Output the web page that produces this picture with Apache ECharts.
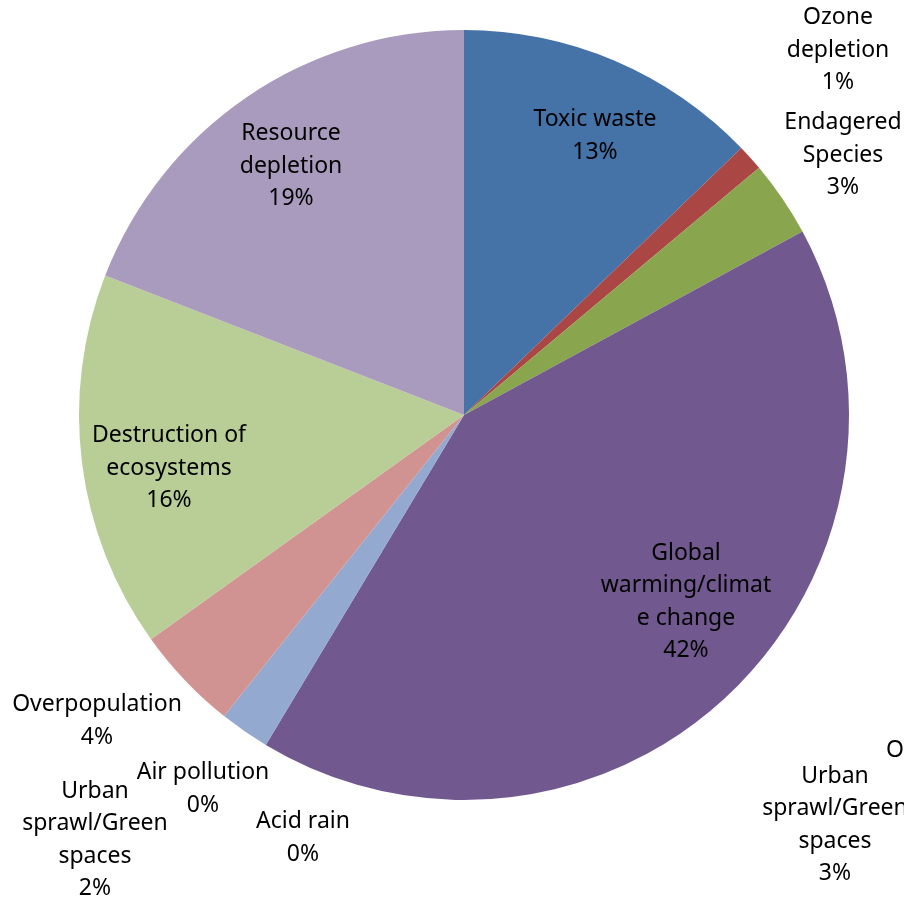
<!DOCTYPE html>
<html>
<head>
<meta charset="utf-8">
<script src="https://cdn.jsdelivr.net/npm/echarts@6/dist/echarts.min.js"></script>
<style>
html, body { margin: 0; padding: 0; background: #fff; }
#chart { width: 904px; height: 900px; }
</style>
</head>
<body>
<div id="chart"></div>
<script>
// data (share of answers, %)
var names = ['Toxic waste', 'Ozone depletion', 'Endagered Species', 'Global warming/climate change',
	'Acid rain', 'Air pollution', 'Urban sprawl/Green spaces', 'Overpopulation',
	'Destruction of ecosystems', 'Resource depletion'];
var labelText = ['Toxic waste', 'Ozone\ndepletion', 'Endagered\nSpecies', 'Global\nwarming/climat\ne change',
	'Acid rain', 'Air pollution', 'Urban\nsprawl/Green\nspaces', 'Overpopulation',
	'Destruction of\necosystems', 'Resource\ndepletion'];
var values = [12.8, 1.1, 3.2, 41.52, 0, 0, 2.1, 4.4, 15.8, 19.1];
var colors = ['#4572A7', '#AA4643', '#89A54E', '#71588F', '#4198AF', '#DB843D',
	'#93A9CF', '#D19392', '#B9CD96', '#A99BBD'];

// where each label sits (centre of the text block)
var labelAt = [[595, 136], [838, 50], [843, 155], [686, 602], [303, 838],
	[203, 789], [95, 840], [97, 721], [169, 468], [291, 166]];

// stray labels clipped at the right edge of the original picture
var strayLabels = [
	{ text: 'Ov', x: 886, y: 750, align: 'left' },
	{ text: 'Urban\nsprawl/Green\nspaces\n3%', x: 835, y: 825, align: 'center' }
];

var font = '"Noto Sans", sans-serif';

var chart = echarts.init(document.getElementById('chart'));

var pieData = [];
for (var i = 0; i < names.length; i++) {
	pieData.push({
		name: names[i],
		value: values[i],
		itemStyle: { color: colors[i] }
	});
}

var option = {
	animation: false,
	series: [{
		type: 'pie',
		center: [464, 415],
		radius: [0, 385],
		startAngle: 90,
		clockwise: true,
		avoidLabelOverlap: false,
		stillShowZeroSum: true,
		itemStyle: { borderWidth: 0 },
		label: {
			show: true,
			position: 'inside',
			color: '#000',
			fontSize: 23,
			lineHeight: 32.5,
			fontFamily: font,
			align: 'center',
			formatter: function (p) {
				return labelText[p.dataIndex] + '\n' + Math.round(p.percent) + '%';
			}
		},
		labelLine: { show: false },
		labelLayout: function (p) {
			var pos = labelAt[p.dataIndex];
			return {
				x: pos[0],
				y: pos[1],
				align: 'center',
				verticalAlign: 'middle'
			};
		},
		emphasis: { disabled: true },
		data: pieData
	}],
	graphic: strayLabels.map(function (s) {
		return {
			type: 'text',
			x: s.x,
			y: s.y,
			style: {
				text: s.text,
				fill: '#000',
				font: '23px ' + font,
				lineHeight: 32.5,
				align: s.align,
				verticalAlign: 'middle'
			}
		};
	})
};
chart.setOption(option);

window.onresize = function () {
	chart.resize();
};
</script>
</body>
</html>
